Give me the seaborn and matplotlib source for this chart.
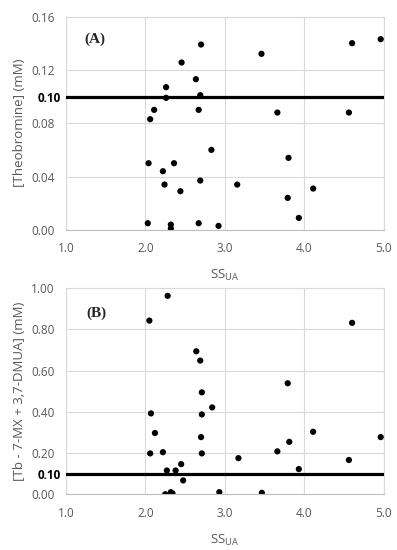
#Libraries
import numpy as np
import pandas as pd
import seaborn as sns
import matplotlib.pyplot as plt

# Data
ss_ua_a = [2.04, 2.06, 2.11, 2.26, 2.26, 2.455, 2.22, 2.24, 2.36, 2.44, 2.03, 2.32, 2.32,
           2.635, 2.69, 2.67, 2.67, 2.70, 2.69, 2.83, 2.92, 3.155, 3.46, 3.66, 3.80,
           3.79, 3.93, 4.11, 4.56, 4.60, 4.96]
theobromine = [0.050, 0.083, 0.090, 0.107, 0.099, 0.1255, 0.044, 0.034, 0.050, 0.029, 0.005,
               0.004, 0.001, 0.113, 0.037, 0.005, 0.090, 0.139, 0.101, 0.060, 0.003, 0.034,
               0.132, 0.088, 0.054, 0.024, 0.009, 0.031, 0.088, 0.140, 0.143]

ss_ua_b = [2.28, 2.05, 2.07, 2.12, 2.06, 2.22, 2.27, 2.38, 2.45, 2.475, 2.25, 2.32, 2.34,
           2.64, 2.69, 2.71, 2.84, 2.71, 2.70, 2.71, 2.93, 3.17, 3.465, 3.66, 3.79,
           3.81, 3.93, 4.11, 4.56, 4.60, 4.96]
tb_sum = [0.963, 0.843, 0.393, 0.298, 0.199, 0.205, 0.116, 0.116, 0.147, 0.068, 0.001, 0.011,
          0.005, 0.694, 0.649, 0.495, 0.422, 0.388, 0.278, 0.199, 0.011, 0.176, 0.008, 0.209,
          0.539, 0.255, 0.123, 0.304, 0.167, 0.832, 0.278]

threshold = 0.10
x_ticks = [1.0, 2.0, 3.0, 4.0, 5.0]
y_ticks_a = [0.00, 0.04, 0.08, 0.12, 0.16]
y_ticks_b = [0.00, 0.20, 0.40, 0.60, 0.80, 1.00]

df_a = pd.DataFrame({'SS': ss_ua_a, 'conc': theobromine})
df_b = pd.DataFrame({'SS': ss_ua_b, 'conc': tb_sum})

sns.set_style('white')
plt.rcParams['font.family'] = ['Open Sans', 'DejaVu Sans']

fig = plt.figure(figsize=(3.97, 5.5), dpi=100)
ax_a = fig.add_axes([0.166, 0.582, 0.801, 0.388])
ax_b = fig.add_axes([0.166, 0.101, 0.801, 0.375])

panels = [
    (ax_a, df_a, y_ticks_a, '[Theobromine] (mM)', '(A)', (1.37, 0.143)),
    (ax_b, df_b, y_ticks_b, '[Tb - 7-MX + 3,7-DMUA] (mM)', '(B)', (1.39, 0.879)),
]

grey = '#d9d9d9'
for ax, df, yt, ylab, tag, tag_pos in panels:
    sns.scatterplot(data=df, x='SS', y='conc', ax=ax, color='black', s=20,
                    edgecolor='none', zorder=3)
    ax.axhline(threshold, color='black', lw=2.3, zorder=4)
    ax.set_xlim(1.0, 5.0)
    ax.set_ylim(yt[0], yt[-1])
    ax.set_xticks(x_ticks, labels=[f'{t:.1f}' for t in x_ticks])
    ax.set_yticks(yt, labels=[f'{t:.2f}' for t in yt])
    ax.set_yticks([threshold], labels=['0.10'], minor=True)
    ax.grid(True, which='major', color=grey, lw=0.8)
    ax.grid(False, which='minor')
    ax.tick_params(which='both', length=0, labelsize=8.5, labelcolor='#595959')
    ax.tick_params(axis='y', pad=8)
    ax.tick_params(axis='x', pad=9)
    for lbl in ax.get_yticklabels(minor=True):
        lbl.set_fontweight('bold')
        lbl.set_color('black')
    for side, sp in ax.spines.items():
        sp.set_color(grey)
        sp.set_linewidth(0.8)
    ax.spines['bottom'].set_color('#bfbfbf')
    ax.set_ylabel(ylab, fontsize=9.5, color='#595959', labelpad=4)
    ax.set_xlabel('SS$_{\\mathregular{UA}}$', fontsize=9.5, color='#595959', labelpad=9)
    ax.text(tag_pos[0], tag_pos[1], tag, fontsize=11, fontweight='bold',
            family='Liberation Serif', ha='center', va='center', zorder=5)

fig.savefig('out.png', dpi=100)
